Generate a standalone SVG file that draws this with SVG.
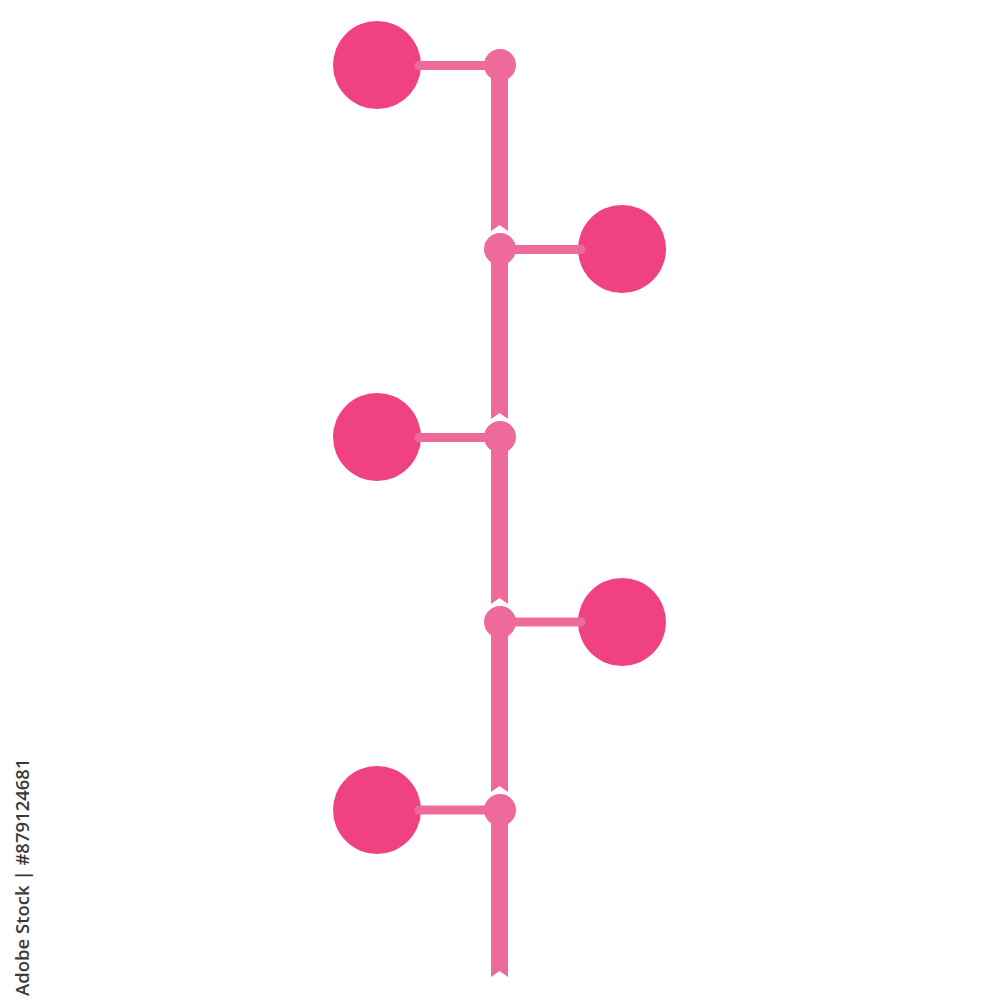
<svg xmlns="http://www.w3.org/2000/svg" width="1000" height="1000" viewBox="0 0 1000 1000">
<style>
.bar{fill:#EE6A9A}
.link{stroke:#EE6A9A;stroke-width:9;stroke-linecap:round;fill:none}
.dot{fill:#EE6A9A}
.big{fill:#F04282}
.wm{font-family:"Open Sans","DejaVu Sans",sans-serif;font-size:18.5px;font-weight:600;fill:#3a3a3a}
</style>
<rect width="1000" height="1000" fill="#ffffff"/>
<g id="node1-big"><circle class="big" cx="377" cy="65" r="44"/></g>
<g id="node2-big"><circle class="big" cx="622" cy="249" r="44"/></g>
<g id="node3-big"><circle class="big" cx="377" cy="437" r="44"/></g>
<g id="node4-big"><circle class="big" cx="622" cy="622" r="44"/></g>
<g id="node5-big"><circle class="big" cx="377" cy="810" r="44"/></g>
<g id="connectors">
<path class="bar" d="M491,65 H508 V231 L499.5,225 L491,231 Z"/>
<path class="bar" d="M491,249 H508 V419 L499.5,413 L491,419 Z"/>
<path class="bar" d="M491,437 H508 V604 L499.5,598 L491,604 Z"/>
<path class="bar" d="M491,622 H508 V792 L499.5,786 L491,792 Z"/>
<path class="bar" d="M491,810 H508 V977 L499.5,971 L491,977 Z"/>
<line class="link" x1="419" y1="65.5" x2="500" y2="65.5"/>
<line class="link" x1="500" y1="249.5" x2="581" y2="249.5"/>
<line class="link" x1="419" y1="437.5" x2="500" y2="437.5"/>
<line class="link" x1="500" y1="622" x2="581" y2="622"/>
<line class="link" x1="419" y1="810" x2="500" y2="810"/>
</g>
<g id="node1"><circle class="dot" cx="500" cy="65" r="16"/></g>
<g id="node2"><circle class="dot" cx="500" cy="249" r="16"/></g>
<g id="node3"><circle class="dot" cx="500" cy="437" r="16"/></g>
<g id="node4"><circle class="dot" cx="500" cy="622" r="16"/></g>
<g id="node5"><circle class="dot" cx="500" cy="810" r="16"/></g>
<text class="wm" transform="translate(29,996) rotate(-90)">Adobe Stock | #879124681</text>
</svg>
